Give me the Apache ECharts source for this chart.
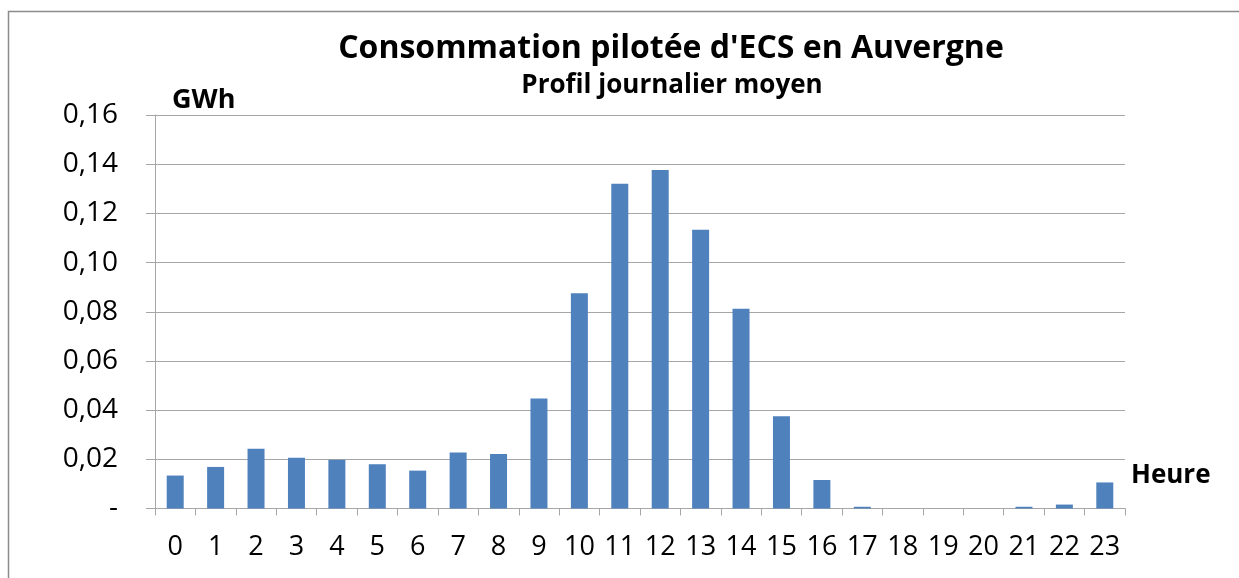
<!DOCTYPE html>
<html>
<head>
<meta charset="utf-8">
<script src="https://cdn.jsdelivr.net/npm/echarts@6/dist/echarts.min.js"></script>
<style>
  html, body { margin: 0; padding: 0; background: #fff; }
  #chart { width: 1239px; height: 578px; }
</style>
</head>
<body>
<div id="chart"></div>
<script>
// heures de la journée
const hours = ["0","1","2","3","4","5","6","7","8","9","10","11","12","13","14","15","16","17","18","19","20","21","22","23"];
// consommation moyenne (GWh)
const consumption = [0.0134, 0.0169, 0.0243, 0.0206, 0.0198, 0.018, 0.0154, 0.0228, 0.0222, 0.0447,
  0.0875, 0.132, 0.1376, 0.1133, 0.0812, 0.0375, 0.0116, 0.0007, 0, 0, 0, 0.0007, 0.0016, 0.0106];
const yTicks = [0, 0.02, 0.04, 0.06, 0.08, 0.10, 0.12, 0.14, 0.16];

const font = "'Open Sans', Lato, sans-serif";
const chart = echarts.init(document.getElementById("chart"));

const option = {
  animation: false,
  backgroundColor: "#fff",
  textStyle: { fontFamily: font },
  title: [
    {
      text: "Consommation pilotée d'ECS en Auvergne",
      left: 666, top: 28, textAlign: "center",
      textStyle: { fontFamily: font, fontWeight: "bold", fontSize: 32, color: "#000" }
    },
    {
      text: "Profil journalier moyen",
      left: 667, top: 68, textAlign: "center",
      textStyle: { fontFamily: font, fontWeight: "bold", fontSize: 26, color: "#000" }
    }
  ],
  graphic: [
    {
      type: "rect",
      shape: { x: 8.5, y: 11.5, width: 1240, height: 600 },
      style: { fill: null, stroke: "#8c8c8c", lineWidth: 1.5 },
      silent: true
    },
    {
      type: "text", left: 172, top: 87,
      style: { text: "GWh", font: "bold 27px " + font, fill: "#000" }
    },
    {
      type: "text", left: 1131, top: 463,
      style: { text: "Heure", font: "bold 26px " + font, fill: "#000" }
    }
  ],
  grid: { left: 155, right: 114, top: 115, bottom: 69.5, containLabel: false },
  xAxis: {
    type: "category",
    data: hours,
    boundaryGap: true,
    axisLine: { show: true, lineStyle: { color: "#a6a6a6", width: 1 } },
    axisTick: { show: true, alignWithLabel: false, length: 7, lineStyle: { color: "#a6a6a6" } },
    axisLabel: { interval: 0, hideOverlap: false, fontSize: 27, color: "#000", margin: 25, fontFamily: font }
  },
  yAxis: {
    type: "value",
    min: 0, max: 0.16, interval: 0.02,
    axisLine: { show: true, lineStyle: { color: "#a6a6a6", width: 1 } },
    axisTick: { show: true, inside: false, length: 9, lineStyle: { color: "#a6a6a6" } },
    splitLine: { show: true, lineStyle: { color: "#a6a6a6", width: 1 } },
    axisLabel: {
      fontSize: 28, color: "#000", margin: 37, fontFamily: font,
      formatter: function (v) {
        if (v === 0) return "-";
        const t = yTicks.find(function (x) { return Math.abs(x - v) < 1e-9; });
        return (t !== undefined ? t : v).toFixed(2).replace(".", ",");
      }
    }
  },
  series: [
    {
      type: "bar",
      data: consumption,
      barWidth: 17,
      itemStyle: { color: "#4f81bd" }
    }
  ]
};
chart.setOption(option);
</script>
</body>
</html>
